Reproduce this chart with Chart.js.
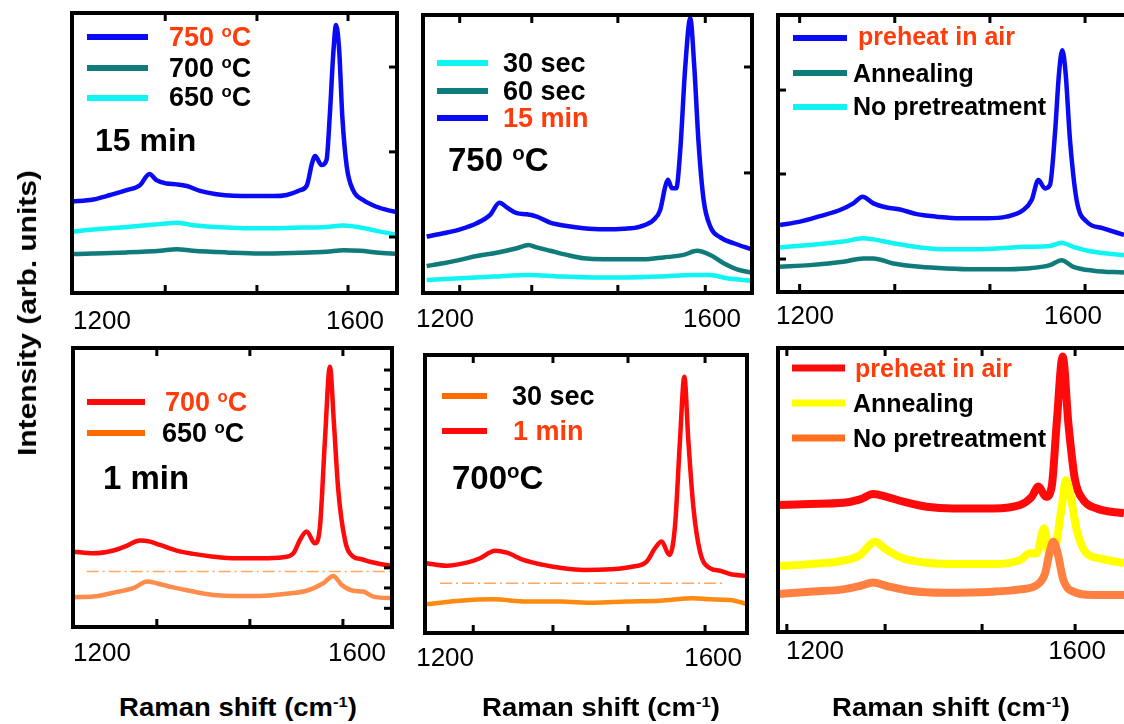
<!DOCTYPE html>
<html>
<head>
<meta charset="utf-8">
<script src="https://cdn.jsdelivr.net/npm/chart.js@4.4.0/dist/chart.umd.min.js"></script>
<style>
  body { margin: 0; background: #fff; width: 1124px; height: 724px; overflow: hidden; position: relative;
         font-family: "Liberation Sans", Arial, sans-serif; }
  canvas { position: absolute; }
  .t { position: absolute; font-weight: bold; white-space: nowrap; line-height: 1; transform: translateY(-50%); color: #000; }
  .red { color: #ff3c0a; }
  .deg { font-size: 62%; position: relative; top: -0.55em; }
  .key { position: absolute; height: 6px; transform: translateY(-50%); }
  .xtitle { position: absolute; top: 707px; font-weight: bold; font-size: 25px; white-space: nowrap; line-height: 1;
            transform: translate(-50%, -50%) scaleX(1.1); }
  .xtitle sup { font-size: 60%; vertical-align: 0.55em; line-height: 0; }
  .ytitle { position: absolute; left: 27px; top: 313px; font-weight: bold; font-size: 26px; white-space: nowrap; line-height: 1;
            transform: translate(-50%, -50%) rotate(-90deg) scaleX(1.15); }
</style>
</head>
<body>

<script>
// ---- colours ----
const BLUE = '#0a0af5', TEAL = '#0f7b7b', CYAN = '#10f4f4';
const RED = '#ff0a0a', ORANGE = '#ff6a00', LORANGE = '#ff8c4a', YELLOW = '#ffff00', PALE = '#ffa860';

// ---- panel 1: 15 min, 750 / 700 / 650 C ----
const p1Shift750 = [1152,1186,1213,1239,1260,1275,1286,1302,1318,1334,1355,1381,1408,1439,1471,1492,1513,1524,1532,1537,1547,1555,1560,1566,1570,1575,1580,1587,1597,1613,1634,1655,1668];
const p1Int750   = [32.6,33.4,35.0,36.7,38.5,42.5,40.3,39.1,38.8,38.2,36.5,35.3,34.7,34.6,34.6,35.0,36.7,38.5,46.3,48.9,45.7,47.5,62.9,86.7,95.7,86.7,62.9,45.1,36.7,33.2,30.8,29.4,28.8];
const p1ShiftLow = [1152,1186,1239,1292,1318,1344,1397,1450,1502,1555,1582,1608,1634,1668];
const p1Int650   = [21.9,22.7,23.6,24.6,25.1,24.2,23.4,23.1,23.3,23.6,24.1,23.4,22.2,20.7];
const p1Int700   = [13.9,14.1,14.5,15.1,15.6,15.1,14.5,14.1,14.3,14.7,15.3,15.1,14.5,13.9];

// ---- panel 2: 750 C, 30 sec / 60 sec / 15 min ----
const p2Shift15 = [1172.5,1197.5,1222.5,1247.5,1267.5,1281.5,1292.5,1307.5,1322.5,1337.5,1357.5,1382.5,1407.5,1437.5,1467.5,1492.5,1512.5,1522.5,1530,1534,1540,1546.5,1552.5,1560,1567.5,1573.5,1580,1587.5,1597.5,1612.5,1632.5,1660];
const p2Int15   = [20.3,21.5,22.9,25.1,28.1,32.5,30.8,28.7,28.3,27.5,25.3,24.1,23.3,22.9,23.1,23.9,26.3,29.9,38.3,40.7,37.7,37.7,51.4,81.4,98.8,81.4,53.8,33.5,23.9,20.0,17.9,15.7];
const p2Shift60 = [1172.5,1197.5,1222.5,1247.5,1277.5,1307.5,1325,1337.5,1357.5,1382.5,1407.5,1437.5,1467.5,1497.5,1527.5,1557.5,1577.5,1597.5,1617.5,1637.5,1660];
const p2Int60   = [9.7,10.7,11.9,13.3,14.5,16.1,17.3,16.4,15.2,13.7,12.5,12.1,12.1,12.1,12.8,13.7,15.2,13.7,10.7,8.5,7.3];
const p2Shift30 = [1172.5,1222.5,1272.5,1325,1372.5,1422.5,1472.5,1522.5,1572.5,1597.5,1622.5,1660];
const p2Int30   = [4.7,5.3,5.9,6.5,5.9,5.6,5.6,5.9,6.5,6.5,5.3,4.4];

// ---- panel 3: pretreatment (blue set) ----
const p3ShiftAir = [1162.7,1192.5,1222.4,1252.2,1272.1,1286.0,1302.0,1321.9,1341.8,1366.6,1396.5,1431.3,1471.1,1501.0,1525.8,1538.3,1548.2,1558.2,1565.6,1573.1,1579.1,1584.0,1589.0,1595.5,1605.4,1620.4,1645.2,1676.1];
const p3IntAir   = [24.2,25.4,27.4,29.6,32.0,34.4,32.0,30.5,29.8,28.1,27.2,26.6,26.6,27.2,29.6,33.2,40.4,37.4,38.6,57.3,78.9,87.3,78.9,54.9,33.2,25.4,23.0,20.6];
const p3ShiftLow = [1162.7,1207.4,1257.2,1287.0,1302.0,1331.8,1371.6,1411.4,1451.2,1491.0,1530.8,1565.6,1583.0,1600.5,1630.3,1676.1];
const p3IntNone  = [16.1,17.0,18.2,19.4,19.0,17.6,16.1,15.4,15.4,15.8,16.3,16.6,17.8,16.3,14.5,13.3];
const p3IntAnn   = [9.1,9.7,10.9,12.1,12.1,10.3,9.1,8.5,8.2,8.2,8.5,9.7,11.5,9.1,7.7,7.0];

// ---- panel 4: 1 min, 700 / 650 C ----
const p4Shift700 = [1155.0,1186.4,1217.8,1238.7,1259.6,1275.3,1291.0,1317.1,1343.3,1374.6,1411.2,1447.8,1484.4,1500.1,1510.6,1521.0,1534.1,1542.0,1549.8,1557.6,1563.9,1570.7,1581.2,1594.3,1607.3,1620.4,1636.1,1654.4];
const p4Int700   = [27.0,26.4,27.4,29.1,31.0,30.6,29.4,27.4,26.2,25.2,24.6,24.6,25.0,26.4,31.2,34.2,30.0,36.0,67.1,93.3,73.0,49.1,31.2,25.2,24.3,23.4,22.6,21.9];
const p4Shift650 = [1155.0,1186.4,1217.8,1249.1,1271.1,1285.7,1311.9,1343.3,1374.6,1411.2,1447.8,1489.7,1521.0,1547.2,1562.9,1576.0,1594.3,1609.9,1625.6,1659.6];
const p4Int650   = [10.7,10.9,12.3,13.9,16.3,15.7,14.2,12.7,11.5,11.1,11.1,11.9,13.0,15.7,18.3,15.1,13.0,12.7,10.9,10.3];
const p4ShiftRef = [1176, 1652];
const p4IntRef   = [19.9, 19.9];

// ---- panel 5: 700 C, 30 sec / 1 min ----
const p5Shift1m = [1172.5,1202.3,1232.2,1252.1,1274.5,1291.9,1316.8,1346.6,1376.5,1406.3,1446.1,1480.9,1500.8,1513.3,1523.2,1534.7,1543.1,1550.6,1557.1,1563.0,1570.5,1580.4,1595.4,1610.3,1625.2,1650.1];
const p5Int1m   = [25.1,24.2,25.3,26.9,29.6,28.9,26.3,24.5,23.3,22.7,22.9,23.9,25.7,30.5,32.9,28.1,38.3,69.4,92.2,69.4,45.4,29.3,23.3,22.4,21.2,20.5];
const p5Shift30 = [1172.5,1222.2,1272.0,1321.7,1371.5,1421.2,1471.0,1520.7,1570.5,1595.4,1625.2,1655.1];
const p5Int30   = [10.4,11.6,12.1,11.3,11.3,10.9,11.3,11.6,12.5,12.1,11.9,10.1];
const p5ShiftRef = [1192.4, 1615.3];
const p5IntRef   = [17.9, 17.9];

// ---- panel 6: pretreatment (red set) ----
const p6ShiftAir = [1144.0,1192.3,1243.2,1268.7,1289.0,1309.4,1334.8,1370.5,1411.2,1472.2,1512.9,1530.8,1540.9,1552.6,1561.3,1568.9,1578.1,1586.7,1596.9,1609.6,1630.0,1671.7];
const p6IntAir   = [44.7,45.1,45.5,46.7,48.6,47.6,45.9,44.1,43.5,43.5,44.7,47.6,51.2,47.6,51.2,73.5,97.0,73.5,53.5,46.5,43.5,41.8];
const p6ShiftAnn = [1144.0,1192.3,1243.2,1268.7,1291.6,1309.4,1334.8,1370.5,1421.3,1472.2,1512.9,1528.2,1538.4,1549.6,1557.7,1566.4,1576.6,1583.2,1590.3,1599.5,1612.2,1635.1,1671.7];
const p6IntAnn   = [23.2,23.9,25.1,27.1,31.8,28.9,25.9,24.4,23.9,23.9,25.3,27.7,27.7,36.5,27.7,29.5,44.1,53.5,47.6,35.9,28.3,25.9,24.2];
const p6ShiftNone = [1144.0,1192.3,1243.2,1268.7,1289.0,1309.4,1345.0,1395.9,1472.2,1512.9,1538.4,1551.1,1557.7,1563.8,1570.4,1579.1,1594.4,1624.9,1671.7];
const p6IntNone   = [13.4,14.2,15.0,16.2,17.4,16.2,14.5,13.8,14.2,15.0,16.5,20.6,27.7,31.8,27.7,18.3,14.2,13.0,13.0];

// ---- tick labels and inner tick marks ----
const xTickLabels = [1200, 1600];
const p1Marks = [1300, 1445, 1589], p1SideMarks = [80.7, 50.4, 20.0];
const p2Marks = [1222, 1330, 1459, 1590], p2SideMarks = [81.3, 43.2];
const p3Marks = [1192, 1334, 1476, 1618], p3SideMarks = [72.9, 42.6, 11.9];
const p4Marks = [1286, 1432, 1578], p4SideMarks = [92.1,85.2,78.1,70.9,64.1,57.0,49.8,42.7,35.5,28.4,21.2,14.0,6.7];
const p5Marks = [1242, 1361, 1473, 1588], p5SideMarks = [];
const p6Marks = [1157, 1307, 1455, 1597], p6SideMarks = [];

function pts(xs, ys) { return xs.map((x, i) => ({ x: x, y: ys[i] })); }
function line(xs, ys, color, width, dash) {
    return { data: pts(xs, ys), borderColor: color, borderWidth: width || 4.5, borderDash: dash || [],
             pointRadius: 0, cubicInterpolationMode: 'monotone', clip: 2 };
}

// frame + inward tick marks
const framePlugin = {
    id: 'frame',
    afterDatasetsDraw(chart, args, opts) {
        const { ctx, chartArea: a, scales: { x, y } } = chart;
        ctx.save();
        ctx.strokeStyle = '#000';
        ctx.lineWidth = 3;
        opts.marks.forEach(v => {
            const px = x.getPixelForValue(v);
            ctx.beginPath();
            ctx.moveTo(px, a.bottom); ctx.lineTo(px, a.bottom - 8);
            ctx.moveTo(px, a.top); ctx.lineTo(px, a.top + 8);
            ctx.stroke();
        });
        const edge = opts.side === 'left' ? a.left : a.right;
        const dir = opts.side === 'left' ? 1 : -1;
        opts.sideMarks.forEach(v => {
            const py = y.getPixelForValue(v);
            ctx.beginPath(); ctx.moveTo(edge, py); ctx.lineTo(edge + dir * 8, py); ctx.stroke();
        });
        ctx.lineWidth = 4;
        ctx.strokeRect(a.left, a.top, a.right - a.left, a.bottom - a.top);
        ctx.restore();
    }
};

const panels = [
    { L: 72, T: 13, W: 325, H: 280, min: 1152.6, max: 1666.4, gap: 13, marks: p1Marks, sideMarks: p1SideMarks, side: 'right',
      sets: [line(p1ShiftLow, p1Int700, TEAL), line(p1ShiftLow, p1Int650, CYAN), line(p1Shift750, p1Int750, BLUE)] },
    { L: 423, T: 15, W: 329, H: 278, min: 1167, max: 1660, gap: 11, marks: p2Marks, sideMarks: p2SideMarks, side: 'right',
      sets: [line(p2Shift30, p2Int30, CYAN), line(p2Shift60, p2Int60, TEAL), line(p2Shift15, p2Int15, BLUE)] },
    { L: 778, T: 15, W: 360, H: 277, min: 1159.7, max: 1697, gap: 9, marks: p3Marks, sideMarks: p3SideMarks, side: 'left',
      sets: [line(p3ShiftLow, p3IntAnn, TEAL), line(p3ShiftLow, p3IntNone, CYAN), line(p3ShiftAir, p3IntAir, BLUE)] },
    { L: 73, T: 348, W: 319, H: 279, min: 1154.5, max: 1655, gap: 11, marks: p4Marks, sideMarks: p4SideMarks, side: 'right',
      sets: [line(p4ShiftRef, p4IntRef, PALE, 1.5, [12, 4, 2, 4]), line(p4Shift650, p4Int650, LORANGE), line(p4Shift700, p4Int700, RED)] },
    { L: 425, T: 355, W: 322, H: 278, min: 1170, max: 1650.6, gap: 10, marks: p5Marks, sideMarks: p5SideMarks, side: 'right',
      sets: [line(p5ShiftRef, p5IntRef, PALE, 1.5, [12, 4, 2, 4]), line(p5Shift30, p5Int30, '#ff8a10'), line(p5Shift1m, p5Int1m, RED)] },
    { L: 778, T: 348, W: 360, H: 284, min: 1143.5, max: 1693, gap: 4, marks: p6Marks, sideMarks: p6SideMarks, side: 'left',
      sets: [line(p6ShiftNone, p6IntNone, '#ff8040', 8), line(p6ShiftAnn, p6IntAnn, YELLOW, 8), line(p6ShiftAir, p6IntAir, RED, 8)] }
];

panels.forEach(p => {
    const cv = document.createElement('canvas');
    cv.width = p.W + 80; cv.height = p.H + 60;
    cv.style.left = (p.L - 40) + 'px'; cv.style.top = (p.T - 10) + 'px';
    document.body.appendChild(cv);
    new Chart(cv.getContext('2d'), {
        type: 'line',
        data: { datasets: p.sets },
        plugins: [framePlugin],
        options: {
            responsive: false, animation: false, devicePixelRatio: 1,
            layout: { padding: { left: 40, right: 40, top: 10, bottom: 0 } },
            plugins: { legend: { display: false }, tooltip: { enabled: false },
                       frame: { marks: p.marks, sideMarks: p.sideMarks, side: p.side } },
            scales: {
                x: { type: 'linear', min: p.min, max: p.max,
                     grid: { display: false, drawTicks: false }, border: { display: false },
                     afterBuildTicks: s => { s.ticks = xTickLabels.map(v => ({ value: v })); },
                     afterFit: s => { s.height = 50; },
                     ticks: { padding: p.gap, color: '#000', autoSkip: false, maxRotation: 0,
                              font: { size: 26, family: 'Liberation Sans' }, callback: v => String(v) } },
                y: { display: false, min: 0, max: 100 }
            }
        }
    });
});

// legends and annotations
const notes = [
    // panel 1
    ['key', 87, 37, 61, BLUE], ['key', 87, 68, 61, TEAL], ['key', 87, 98, 61, CYAN],
    ['txt', 169, 37, 27, '750 <span class="deg">o</span>C', true], ['txt', 169, 68, 27, '700 <span class="deg">o</span>C'],
    ['txt', 169, 97, 27, '650 <span class="deg">o</span>C'], ['txt', 95, 140, 32, '15 min'],
    // panel 2
    ['key', 437, 63, 51, CYAN], ['key', 437, 91, 51, TEAL], ['key', 437, 118, 51, BLUE],
    ['txt', 503, 63, 27, '30 sec'], ['txt', 503, 91, 27, '60 sec'], ['txt', 503, 118, 27, '15 min', true],
    ['txt', 448, 159, 33, '750 <span class="deg">o</span>C'],
    // panel 3
    ['key', 793, 38, 54, BLUE], ['key', 793, 73, 54, TEAL], ['key', 793, 107, 54, CYAN],
    ['txt', 858, 36, 25, 'preheat in air', true], ['txt', 853, 73, 25, 'Annealing'], ['txt', 853, 106, 25, 'No pretreatment'],
    // panel 4
    ['key', 87, 402, 58, RED], ['key', 87, 433, 58, ORANGE],
    ['txt', 165, 402, 27, '700 <span class="deg">o</span>C', true], ['txt', 162, 433, 27, '650 <span class="deg">o</span>C'],
    ['txt', 103, 477, 33, '1 min'],
    // panel 5
    ['key', 442, 396, 45, ORANGE], ['key', 442, 431, 45, RED],
    ['txt', 512, 396, 27, '30 sec'], ['txt', 513, 431, 27, '1 min', true],
    ['txt', 452, 477, 33, '700<span class="deg">o</span>C'],
    // panel 6
    ['key', 792, 368, 53, RED, 7], ['key', 792, 403, 53, YELLOW, 7], ['key', 792, 438, 53, '#ff7020', 7],
    ['txt', 855, 368, 25, 'preheat in air', true], ['txt', 853, 403, 25, 'Annealing'], ['txt', 853, 438, 25, 'No pretreatment']
];
notes.forEach(n => {
    const d = document.createElement('div');
    if (n[0] === 'key') {
        d.className = 'key';
        d.style.left = n[1] + 'px'; d.style.top = n[2] + 'px'; d.style.width = n[3] + 'px';
        d.style.background = n[4]; if (n[5]) d.style.height = n[5] + 'px';
    } else {
        d.className = 't' + (n[5] ? ' red' : '');
        d.style.left = n[1] + 'px'; d.style.top = n[2] + 'px'; d.style.fontSize = n[3] + 'px';
        d.innerHTML = n[4];
    }
    document.body.appendChild(d);
});

[238, 601, 951].forEach(cx => {
    const d = document.createElement('div');
    d.className = 'xtitle';
    d.style.left = cx + 'px';
    d.innerHTML = 'Raman shift (cm<sup>-1</sup>)';
    document.body.appendChild(d);
});
const yt = document.createElement('div');
yt.className = 'ytitle';
yt.textContent = 'Intensity (arb. units)';
document.body.appendChild(yt);
</script>
</body>
</html>
